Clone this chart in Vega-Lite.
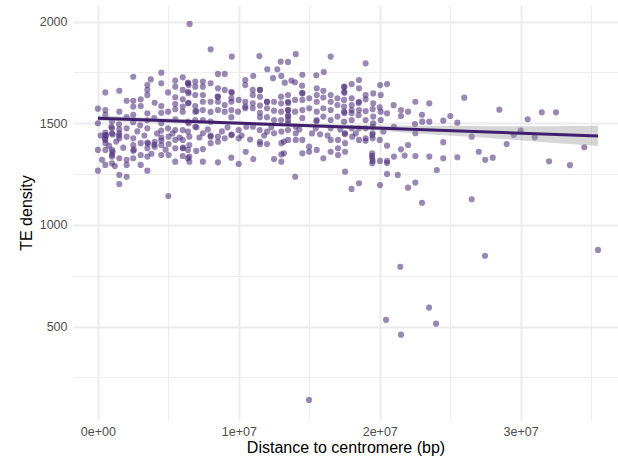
{
"$schema":"https://vega.github.io/schema/vega-lite/v6.json",
"width":545,"height":415,
"autosize":{"type":"none"},
"padding":{"left":73,"top":5,"right":0,"bottom":42},
"background":"white",
"config":{"view":{"stroke":null},"font":"Liberation Sans",
"axis":{"domain":false,"ticks":false,"gridColor":"#EBEBEB","labelColor":"#4D4D4D","labelFontSize":12.5,"titleFontSize":16,"titleFontWeight":"normal","titleColor":"#000000","labelFont":"Liberation Sans","titleFont":"Liberation Sans"}},
"layer":[
{"data":{"values":[
{"d":0,"te":1572},{"d":530000,"te":1565},{"d":530000,"te":1541},{"d":530000,"te":1652},{"d":1520000,"te":1660},{"d":1520000,"te":1557},{"d":2040000,"te":1611},{"d":2510000,"te":1611},{"d":2510000,"te":1729},{"d":3040000,"te":1618},{"d":3040000,"te":1585},{"d":2510000,"te":1582},{"d":3750000,"te":1716},{"d":4500000,"te":1749},{"d":4500000,"te":1697},{"d":5490000,"te":1710},{"d":6020000,"te":1726},{"d":5490000,"te":1680},{"d":6020000,"te":1664},{"d":6440000,"te":1688},{"d":3510000,"te":1688},{"d":3510000,"te":1664},{"d":3510000,"te":1639},{"d":4980000,"te":1652},{"d":4030000,"te":1601},{"d":5490000,"te":1628},{"d":5490000,"te":1595},{"d":6020000,"te":1618},{"d":6020000,"te":1582},{"d":6440000,"te":1648},{"d":6440000,"te":1601},{"d":4500000,"te":1585},{"d":4980000,"te":1557},{"d":4500000,"te":1552},{"d":3510000,"te":1549},{"d":5490000,"te":1569},{"d":6020000,"te":1557},{"d":2040000,"te":1530},{"d":2510000,"te":1541},{"d":0,"te":1500},{"d":1000000,"te":1475},{"d":1520000,"te":1470},{"d":2040000,"te":1475},{"d":3510000,"te":1475},{"d":4500000,"te":1464},{"d":4980000,"te":1475},{"d":5490000,"te":1467},{"d":6020000,"te":1467},{"d":6440000,"te":1500},{"d":530000,"te":1454},{"d":950000,"te":1483},{"d":1000000,"te":1510},{"d":2500000,"te":1505},{"d":3500000,"te":1515},{"d":4500000,"te":1500},{"d":5500000,"te":1520},{"d":3000000,"te":1490},{"d":1500000,"te":1495},{"d":4000000,"te":1525},
{"d":530000,"te":1442},{"d":530000,"te":1418},{"d":1000000,"te":1451},{"d":1520000,"te":1451},{"d":1520000,"te":1426},{"d":2040000,"te":1434},{"d":2510000,"te":1426},{"d":2510000,"te":1393},{"d":2510000,"te":1365},{"d":3040000,"te":1402},{"d":3510000,"te":1405},{"d":3510000,"te":1377},{"d":4030000,"te":1409},{"d":4030000,"te":1385},{"d":4500000,"te":1393},{"d":5020000,"te":1434},{"d":5020000,"te":1398},{"d":5490000,"te":1418},{"d":5490000,"te":1377},{"d":6020000,"te":1418},{"d":6020000,"te":1377},{"d":6490000,"te":1434},{"d":6490000,"te":1393},{"d":0,"te":1369},{"d":530000,"te":1369},{"d":1000000,"te":1369},{"d":1000000,"te":1336},{"d":1000000,"te":1303},{"d":1520000,"te":1328},{"d":2040000,"te":1320},{"d":2040000,"te":1295},{"d":2510000,"te":1328},{"d":3040000,"te":1344},{"d":3510000,"te":1336},{"d":3040000,"te":1295},{"d":3510000,"te":1267},{"d":4500000,"te":1344},{"d":5020000,"te":1344},{"d":5490000,"te":1311},{"d":6020000,"te":1339},{"d":6490000,"te":1336},{"d":6490000,"te":1311},{"d":0,"te":1267},{"d":530000,"te":1295},{"d":1520000,"te":1246},{"d":2040000,"te":1237},{"d":1520000,"te":1201},{"d":5000000,"te":1142},{"d":530000,"te":1402},{"d":600000,"te":1440},{"d":1050000,"te":1445},{"d":1500000,"te":1440},{"d":500000,"te":1425},{"d":1050000,"te":1360},{"d":1000000,"te":1345},{"d":2550000,"te":1370},{"d":3550000,"te":1400},{"d":4000000,"te":1395},{"d":4500000,"te":1430},{"d":4500000,"te":1415},{"d":6050000,"te":1380},
{"d":300000,"te":1320},{"d":800000,"te":1390},{"d":1300000,"te":1410},{"d":1800000,"te":1380},{"d":200000,"te":1440},{"d":1200000,"te":1290},{"d":2800000,"te":1460},{"d":3300000,"te":1440},{"d":4200000,"te":1450},{"d":5300000,"te":1450},{"d":5800000,"te":1430},{"d":4800000,"te":1370},{"d":3800000,"te":1350},
{"d":6510000,"te":1989},{"d":8000000,"te":1864},{"d":9500000,"te":1828},{"d":11460000,"te":1831},{"d":12970000,"te":1803},{"d":12020000,"te":1766},{"d":12730000,"te":1766},{"d":8520000,"te":1743},{"d":9000000,"te":1743},{"d":11030000,"te":1733},{"d":13020000,"te":1733},{"d":13260000,"te":1700},{"d":12430000,"te":1722},{"d":10460000,"te":1713},{"d":10460000,"te":1688},{"d":6390000,"te":1697},{"d":6910000,"te":1705},{"d":7450000,"te":1705},{"d":8000000,"te":1697},{"d":6910000,"te":1680},{"d":7450000,"te":1680},{"d":6390000,"te":1655},{"d":6910000,"te":1639},{"d":7450000,"te":1639},{"d":7450000,"te":1606},{"d":8520000,"te":1672},{"d":9000000,"te":1664},{"d":9470000,"te":1655},{"d":9470000,"te":1623},{"d":8520000,"te":1631},{"d":8520000,"te":1606},{"d":8000000,"te":1606},{"d":9000000,"te":1590},{"d":9470000,"te":1606},{"d":9990000,"te":1615},{"d":10460000,"te":1606},{"d":10460000,"te":1582},{"d":10990000,"te":1664},{"d":10990000,"te":1639},{"d":11500000,"te":1664},{"d":11500000,"te":1631},{"d":12000000,"te":1606},{"d":12500000,"te":1606},{"d":13000000,"te":1631},{"d":13000000,"te":1598},{"d":10990000,"te":1598},{"d":10990000,"te":1574},{"d":11500000,"te":1587},{"d":11500000,"te":1552},{"d":6390000,"te":1598},{"d":6910000,"te":1585},{"d":6910000,"te":1557},{"d":7450000,"te":1565},{"d":8000000,"te":1556},{"d":8520000,"te":1565},{"d":9000000,"te":1557},{"d":9470000,"te":1565},{"d":9940000,"te":1557},{"d":10460000,"te":1574},{"d":12000000,"te":1574},{"d":12500000,"te":1562},{"d":13000000,"te":1557},{"d":13500000,"te":1565},{"d":9470000,"te":1530},{"d":11500000,"te":1530},{"d":12000000,"te":1530},{"d":12500000,"te":1516},{"d":13000000,"te":1516},{"d":13500000,"te":1516},{"d":6390000,"te":1508},{"d":6910000,"te":1516},{"d":7450000,"te":1516},{"d":8000000,"te":1508},{"d":6400000,"te":1700},{"d":9500000,"te":1650},{"d":11500000,"te":1665},{"d":8500000,"te":1630},{"d":12000000,"te":1605},{"d":7000000,"te":1560},
{"d":6390000,"te":1459},{"d":6910000,"te":1483},{"d":7450000,"te":1451},{"d":8000000,"te":1434},{"d":8520000,"te":1434},{"d":9000000,"te":1426},{"d":9470000,"te":1442},{"d":9990000,"te":1467},{"d":9990000,"te":1426},{"d":8000000,"te":1402},{"d":8520000,"te":1409},{"d":6390000,"te":1369},{"d":6980000,"te":1364},{"d":7450000,"te":1373},{"d":7450000,"te":1311},{"d":8520000,"te":1308},{"d":9470000,"te":1331},{"d":9990000,"te":1300},{"d":10490000,"te":1360},{"d":11030000,"te":1324},{"d":6390000,"te":1328},{"d":10530000,"te":1483},{"d":11000000,"te":1483},{"d":11480000,"te":1467},{"d":12000000,"te":1459},{"d":12500000,"te":1451},{"d":13020000,"te":1459},{"d":11500000,"te":1409},{"d":11500000,"te":1397},{"d":13020000,"te":1402},{"d":13020000,"te":1347},{"d":13020000,"te":1311},{"d":12500000,"te":1324},{"d":13500000,"te":1418},{"d":9500000,"te":1445},{"d":7000000,"te":1480},{"d":8000000,"te":1440},{"d":12000000,"te":1398},{"d":17540000,"te":1262},{"d":18000000,"te":1177},{"d":14000000,"te":1237},
{"d":7200000,"te":1430},{"d":8800000,"te":1460},{"d":10200000,"te":1440},{"d":10800000,"te":1420},{"d":11800000,"te":1440},{"d":12300000,"te":1480},{"d":7800000,"te":1470},{"d":9200000,"te":1480},
{"d":14040000,"te":1840},{"d":13490000,"te":1802},{"d":16520000,"te":1828},{"d":19000000,"te":1795},{"d":14510000,"te":1739},{"d":15500000,"te":1736},{"d":16030000,"te":1752},{"d":13730000,"te":1710},{"d":13990000,"te":1702},{"d":14490000,"te":1685},{"d":15530000,"te":1672},{"d":16000000,"te":1660},{"d":17470000,"te":1680},{"d":17470000,"te":1655},{"d":18010000,"te":1693},{"d":18530000,"te":1713},{"d":18530000,"te":1672},{"d":19000000,"te":1639},{"d":19540000,"te":1647},{"d":20070000,"te":1639},{"d":20030000,"te":1688},{"d":13490000,"te":1639},{"d":13490000,"te":1606},{"d":13990000,"te":1615},{"d":14510000,"te":1647},{"d":14510000,"te":1615},{"d":15000000,"te":1623},{"d":15530000,"te":1639},{"d":15530000,"te":1606},{"d":16000000,"te":1627},{"d":16520000,"te":1639},{"d":16520000,"te":1606},{"d":17000000,"te":1623},{"d":17000000,"te":1590},{"d":17470000,"te":1615},{"d":17470000,"te":1582},{"d":18010000,"te":1623},{"d":18010000,"te":1590},{"d":18530000,"te":1606},{"d":19000000,"te":1618},{"d":19540000,"te":1598},{"d":13490000,"te":1565},{"d":13490000,"te":1533},{"d":13490000,"te":1500},{"d":13990000,"te":1557},{"d":14510000,"te":1565},{"d":14510000,"te":1525},{"d":15000000,"te":1574},{"d":15530000,"te":1557},{"d":15530000,"te":1516},{"d":16000000,"te":1574},{"d":16000000,"te":1533},{"d":16520000,"te":1565},{"d":16520000,"te":1516},{"d":17000000,"te":1533},{"d":17470000,"te":1557},{"d":17470000,"te":1508},{"d":18010000,"te":1565},{"d":18010000,"te":1516},{"d":18530000,"te":1565},{"d":19000000,"te":1516},{"d":19540000,"te":1533},{"d":19540000,"te":1500},{"d":20070000,"te":1557},{"d":20070000,"te":1516},{"d":13500000,"te":1600},{"d":13500000,"te":1540},{"d":14500000,"te":1650},{"d":17500000,"te":1678},{"d":18500000,"te":1600},{"d":15500000,"te":1510},
{"d":13490000,"te":1467},{"d":14040000,"te":1483},{"d":14040000,"te":1451},{"d":14510000,"te":1418},{"d":14990000,"te":1385},{"d":14990000,"te":1360},{"d":14510000,"te":1352},{"d":15530000,"te":1369},{"d":16000000,"te":1328},{"d":16520000,"te":1418},{"d":16520000,"te":1360},{"d":17040000,"te":1418},{"d":17040000,"te":1377},{"d":17040000,"te":1344},{"d":17540000,"te":1451},{"d":17540000,"te":1402},{"d":17540000,"te":1360},{"d":18050000,"te":1434},{"d":18530000,"te":1418},{"d":19000000,"te":1426},{"d":19470000,"te":1442},{"d":19470000,"te":1352},{"d":19470000,"te":1328},{"d":19470000,"te":1303},{"d":20020000,"te":1315},{"d":13200000,"te":1410},{"d":13200000,"te":1352},{"d":14040000,"te":1418},{"d":15770000,"te":1446},{"d":16520000,"te":1475},{"d":15460000,"te":1475},{"d":18530000,"te":1205},{"d":20020000,"te":1196},{"d":19450000,"te":1340},{"d":19500000,"te":1315},
{"d":14300000,"te":1470},{"d":15200000,"te":1450},{"d":16300000,"te":1440},{"d":18300000,"te":1450},{"d":17200000,"te":1470},
{"d":20520000,"te":1693},{"d":20990000,"te":1589},{"d":22530000,"te":1606},{"d":23520000,"te":1598},{"d":26000000,"te":1626},{"d":20000000,"te":1579},{"d":20520000,"te":1549},{"d":21510000,"te":1565},{"d":21510000,"te":1536},{"d":22010000,"te":1557},{"d":23000000,"te":1542},{"d":23020000,"te":1508},{"d":23520000,"te":1508},{"d":22500000,"te":1496},{"d":24510000,"te":1513},{"d":25010000,"te":1536},{"d":25510000,"te":1503},{"d":26530000,"te":1434},{"d":22530000,"te":1451},{"d":20520000,"te":1390},{"d":22010000,"te":1393},{"d":21510000,"te":1372},{"d":21010000,"te":1336},{"d":21770000,"te":1341},{"d":22530000,"te":1339},{"d":23520000,"te":1336},{"d":24510000,"te":1328},{"d":25510000,"te":1333},{"d":24510000,"te":1407},{"d":20520000,"te":1251},{"d":21280000,"te":1246},{"d":24050000,"te":1270},{"d":22010000,"te":1183},{"d":22530000,"te":1208},{"d":23000000,"te":1109},{"d":26530000,"te":1126},{"d":20520000,"te":1315},{"d":20520000,"te":1305},{"d":19500000,"te":1451},{"d":19500000,"te":1426},{"d":20000000,"te":1418},{"d":17520000,"te":1447},{"d":19000000,"te":1414},{"d":18530000,"te":1475},{"d":18010000,"te":1475},{"d":19000000,"te":1475},{"d":19500000,"te":1483},{"d":21010000,"te":1483},{"d":20260000,"te":1459},{"d":17500000,"te":1650},{"d":17500000,"te":1550},{"d":18000000,"te":1550},{"d":18500000,"te":1540},{"d":19000000,"te":1560},{"d":19500000,"te":1570},
{"d":28490000,"te":1567},{"d":30500000,"te":1520},{"d":31500000,"te":1554},{"d":32510000,"te":1554},{"d":30000000,"te":1464},{"d":29510000,"te":1443},{"d":31000000,"te":1431},{"d":29010000,"te":1398},{"d":27030000,"te":1360},{"d":27490000,"te":1320},{"d":28020000,"te":1331},{"d":32020000,"te":1313},{"d":33500000,"te":1294},{"d":34520000,"te":1382},{"d":35490000,"te":877},
{"d":21460000,"te":794},{"d":27470000,"te":848},{"d":20450000,"te":533},{"d":23500000,"te":593},{"d":24000000,"te":514},{"d":21510000,"te":460},{"d":14980000,"te":139}
]},
"mark":{"type":"circle","size":38,"opacity":0.56,"color":"#4A2A7A"},
"encoding":{
"x":{"field":"d","type":"quantitative","title":"Distance to centromere (bp)",
"scale":{"domain":[-1767000,36910000],"nice":false,"zero":false},
"axis":{"values":[0,5000000,10000000,15000000,20000000,25000000,30000000,35000000],
"labelExpr":"datum.value % 10000000 == 0 ? ['0e+00','1e+07','2e+07','3e+07'][round(datum.value/10000000)] : ''",
"gridWidth":{"condition":{"test":"datum.value % 10000000 != 0","value":0.95},"value":1.9},
"labelPadding":5,"titlePadding":2}},
"y":{"field":"te","type":"quantitative","title":"TE density",
"scale":{"domain":[40,2082],"nice":false,"zero":false},
"axis":{"values":[250,500,750,1000,1250,1500,1750,2000],
"labelExpr":"datum.value % 500 == 0 ? datum.value : ''",
"gridWidth":{"condition":{"test":"datum.value % 500 != 0","value":0.95},"value":1.9},
"labelPadding":6,"titlePadding":5}}
}},
{"data":{"values":[
{"d":0,"lo":1511,"hi":1539},{"d":4000000,"lo":1504,"hi":1526},{"d":8000000,"lo":1496,"hi":1514},{"d":12000000,"lo":1487,"hi":1503},{"d":16000000,"lo":1477,"hi":1495},{"d":20000000,"lo":1463,"hi":1489},{"d":24000000,"lo":1444,"hi":1488},{"d":28000000,"lo":1426,"hi":1486},{"d":32000000,"lo":1406,"hi":1486},{"d":35490000,"lo":1388,"hi":1488}
]},
"mark":{"type":"area","color":"#999999","opacity":0.4},
"encoding":{"x":{"field":"d","type":"quantitative"},"y":{"field":"lo","type":"quantitative"},"y2":{"field":"hi"}}},
{"data":{"values":[{"d":0,"te":1525},{"d":35490000,"te":1437.5}]},
"mark":{"type":"line","color":"#40206E","strokeWidth":3},
"encoding":{"x":{"field":"d","type":"quantitative"},"y":{"field":"te","type":"quantitative"}}}
]
}
